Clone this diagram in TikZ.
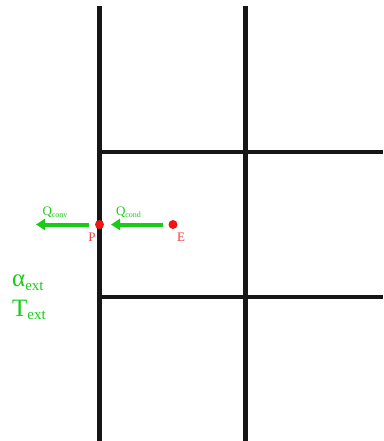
\documentclass[tikz,border=0pt]{standalone}
\usepackage{fontspec}
\setmainfont{Liberation Serif}
\usetikzlibrary{arrows.meta}
\definecolor{gridc}{RGB}{22,22,22}
\definecolor{flux}{RGB}{24,204,24}
\definecolor{pt}{RGB}{240,20,20}
\definecolor{ptlab}{RGB}{245,60,60}
\newcommand{\mysub}[2]{\raisebox{-0.15em}{\fontsize{#1}{#1}\selectfont #2}}
\begin{document}
\begin{tikzpicture}[x=1pt,y=-1pt,
  gridline/.style={draw=gridc,line width=4.5pt},
  dotnode/.style={circle,fill=pt,inner sep=0pt,minimum size=9pt},
  fluxarrow/.style={draw=flux,line width=4pt,-{Triangle[length=9pt,width=11pt]}},
  fluxlab/.style={text=flux,font=\fontsize{13}{13}\selectfont,inner sep=0pt},
  ptlabel/.style={text=ptlab,font=\fontsize{13}{13}\selectfont,inner sep=0pt},
  extlab/.style={text=flux,font=\fontsize{25}{25}\selectfont,inner sep=0pt,anchor=west}]
\useasboundingbox (0,0) rectangle (383,441);
% grid
\draw[gridline] (99.5,6) -- (99.5,441);
\draw[gridline] (245.5,6) -- (245.5,441);
\draw[gridline] (99.5,152) -- (383,152);
\draw[gridline] (99.5,297) -- (383,297);
% points
\node[dotnode] (P) at (99.5,224.5) {};
\node[dotnode] (E) at (173,224.5) {};
\coordinate (Pin) at (111,224.5);
\coordinate (Pout) at (89,224.5);
\coordinate (Out) at (36,224.5);
% arrows
\draw[fluxarrow,shorten <=5pt] (E) -- (Pin);
\draw[fluxarrow] (Pout) -- (Out);
% labels
\node[fluxlab] (Qconv) at (55,212) {Q\mysub{8}{conv}};
\node[fluxlab] (Qcond) at (128.5,212) {Q\mysub{8}{cond}};
\node[ptlabel] (Plab) at (92,237) {P};
\node[ptlabel] (Elab) at (181,237) {E};
\node[extlab] (alpha) at (12,283) {α\mysub{15}{ext}};
\node[extlab] (Text) at (12,310) {T\mysub{15}{ext}};
\end{tikzpicture}
\end{document}
